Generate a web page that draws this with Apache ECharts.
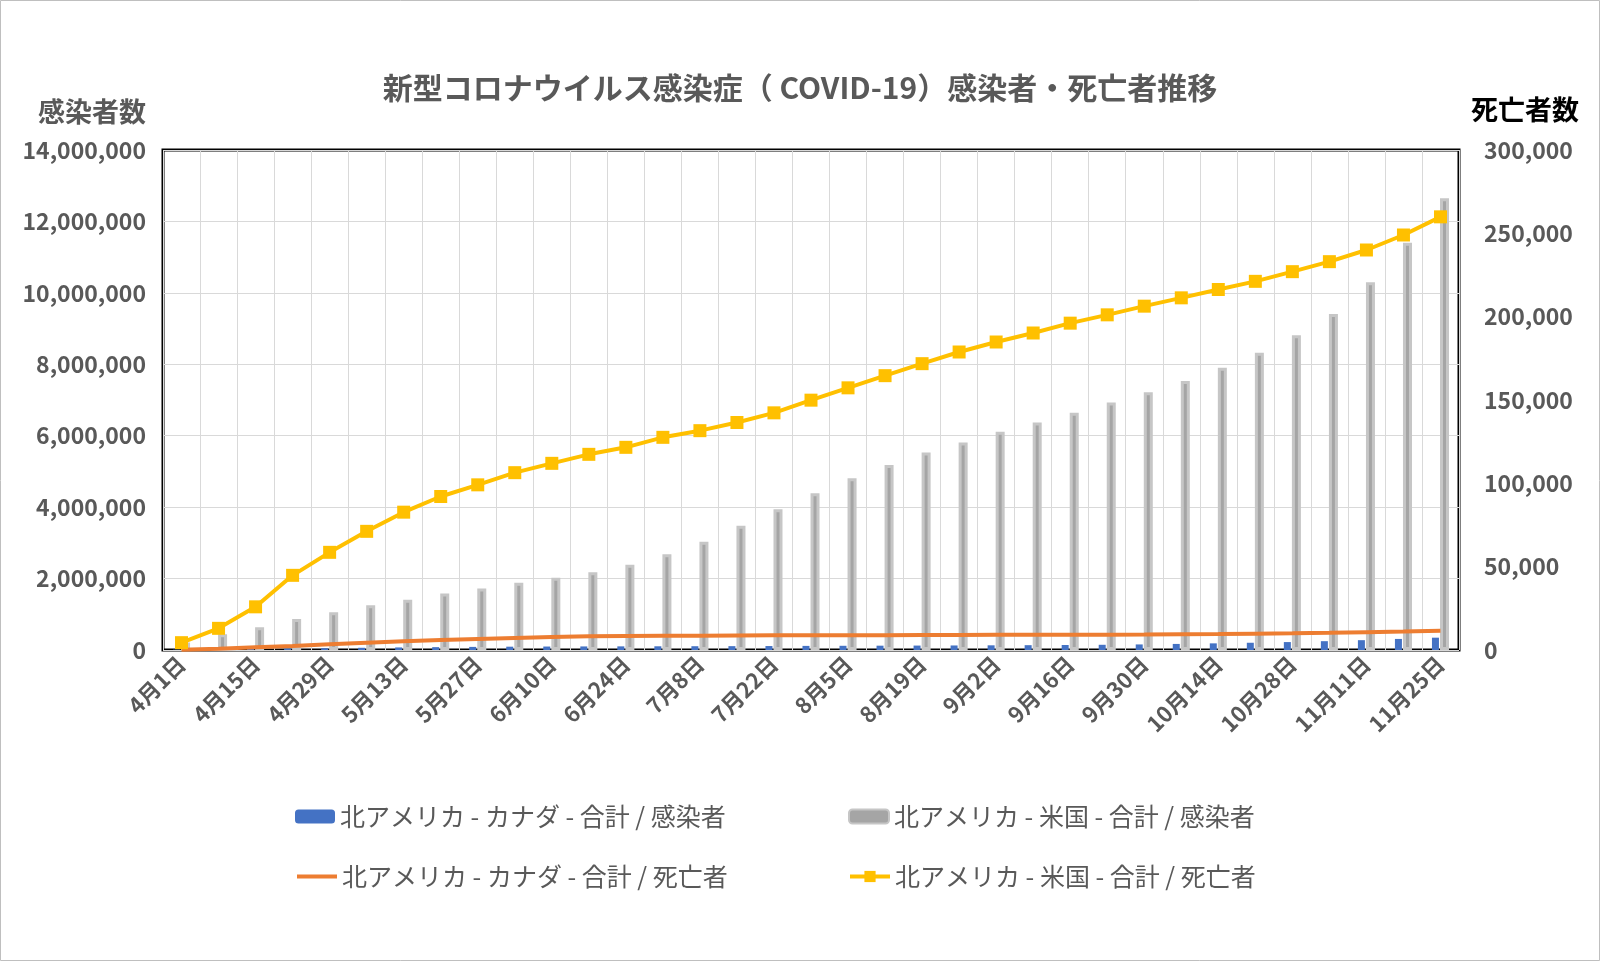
<!DOCTYPE html>
<html>
<head>
<meta charset="utf-8">
<script src="https://cdn.jsdelivr.net/npm/echarts@6/dist/echarts.min.js"></script>
<style>
html,body{margin:0;padding:0;background:#fff;}
#c{width:1600px;height:961px;}
</style>
</head>
<body>
<div id="c"></div>
<script>
const categories = ['4月1日','4月8日','4月15日','4月22日','4月29日','5月6日','5月13日','5月20日','5月27日','6月3日','6月10日','6月17日','6月24日','7月1日','7月8日','7月15日','7月22日','7月29日','8月5日','8月12日','8月19日','8月26日','9月2日','9月9日','9月16日','9月23日','9月30日','10月7日','10月14日','10月21日','10月28日','11月4日','11月11日','11月18日','11月25日'];

const canadaCases = [9000,19000,28000,40000,50000,62000,72000,80000,87000,93000,97000,100000,102000,104000,106000,108000,111000,115000,118000,121000,124000,127000,131000,135000,140000,146000,156000,170000,186000,203000,222000,247000,275000,310000,345000];

const usCases = [210000,440000,640000,870000,1060000,1250000,1410000,1580000,1720000,1880000,2020000,2180000,2390000,2680000,3030000,3480000,3940000,4390000,4810000,5180000,5530000,5810000,6110000,6370000,6640000,6930000,7220000,7530000,7900000,8320000,8810000,9410000,10300000,11400000,12650000];

const canadaDeaths = [200,800,1600,2400,3400,4400,5200,6000,6600,7200,7800,8200,8400,8500,8600,8700,8800,8800,8900,8900,9000,9000,9100,9100,9200,9200,9300,9500,9600,9800,10000,10300,10700,11100,11600];

const usDeaths = [4400,13000,25900,44800,58600,71200,82700,92100,99100,106400,112000,117400,121600,127600,131600,136500,142300,149900,157300,164600,171800,178800,184800,190200,196100,201100,206300,211300,216300,221200,227000,233000,240000,249000,259900];

const leftTicks = {min:0, max:14000000, interval:2000000};
const rightTicks = {min:0, max:300000, interval:50000};

const seriesNames = ['北アメリカ - カナダ - 合計 / 感染者','北アメリカ - 米国 - 合計 / 感染者','北アメリカ - カナダ - 合計 / 死亡者','北アメリカ - 米国 - 合計 / 死亡者'];

const FONT = '"Noto Sans CJK JP", "Noto Sans", sans-serif';
const fmt = v => String(v).replace(/\B(?=(\d{3})+(?!\d))/g, ',');

const chart = echarts.init(document.getElementById('c'), null, {renderer:'canvas'});
const legendCommon = {
  itemWidth: 40, itemHeight: 14,
  textStyle: {fontFamily: FONT, fontSize: 25, color: '#595959'},
  selectedMode: false
};
chart.setOption({
  animation: false,
  backgroundColor: '#fff',
  textStyle: {fontFamily: FONT},
  title: {
    text: '新型コロナウイルス感染症（ COVID-19）感染者・死亡者推移',
    left: 'center', top: 68,
    textStyle: {fontFamily: FONT, fontSize: 30, fontWeight: 'bold', color: '#595959'}
  },
  graphic: [
    {type:'rect', shape:{x:0.5,y:0.5,width:1599,height:960}, style:{fill:'none', stroke:'#BFBFBF', lineWidth:1}, silent:true},
    {type:'text', x:146, y:112, style:{text:'感染者数', textAlign:'right', textVerticalAlign:'middle', font:'bold 27px "Noto Sans CJK JP"', fill:'#595959'}},
    {type:'text', x:1525, y:110, style:{text:'死亡者数', textAlign:'center', textVerticalAlign:'middle', font:'bold 27px "Noto Sans CJK JP"', fill:'#000000'}}
  ],
  legend: [
    Object.assign({data:[seriesNames[0]], left:290, top:799}, legendCommon),
    Object.assign({data:[seriesNames[1]], left:843, top:799}, legendCommon),
    Object.assign({data:[seriesNames[2]], left:290, top:859, itemStyle:{opacity:0}, lineStyle:{width:4}}, legendCommon),
    Object.assign({data:[seriesNames[3]], left:843, top:859, lineStyle:{width:4}}, legendCommon)
  ],
  grid: {
    left: 163, right: 141, top: 150, bottom: 311,
    show: true, borderColor: '#000', borderWidth: 3, containLabel: false
  },
  xAxis: {
    type: 'category',
    data: categories,
    boundaryGap: true,
    axisLine: {show: false},
    axisTick: {show: false},
    splitLine: {show: true, interval: 0, lineStyle: {color: '#D9D9D9', width: 1}},
    axisLabel: {
      interval: 1, rotate: 45, margin: 10,
      fontFamily: FONT, fontSize: 22, fontWeight: 'bold', color: '#595959'
    }
  },
  yAxis: [
    {
      type: 'value', min: leftTicks.min, max: leftTicks.max, interval: leftTicks.interval,
      axisLine: {show: false}, axisTick: {show: false},
      splitLine: {show: true, lineStyle: {color: '#D9D9D9', width: 1}},
      axisLabel: {formatter: fmt, margin: 17, fontFamily: FONT, fontSize: 23, fontWeight: 'bold', color: '#595959'}
    },
    {
      type: 'value', min: rightTicks.min, max: rightTicks.max, interval: rightTicks.interval,
      position: 'right',
      axisLine: {show: false}, axisTick: {show: false},
      splitLine: {show: false},
      axisLabel: {formatter: fmt, margin: 25, fontFamily: FONT, fontSize: 23, fontWeight: 'bold', color: '#595959'}
    }
  ],
  series: [
    {
      name: seriesNames[0], type: 'bar', yAxisIndex: 0, data: canadaCases,
      barWidth: 7, barGap: '15%',
      itemStyle: {color: '#4472C4'}
    },
    {
      name: seriesNames[1], type: 'bar', yAxisIndex: 0, data: usCases,
      barWidth: 9, barGap: '15%',
      itemStyle: {color: '#A5A5A5', borderColor: '#C6C6C6', borderWidth: 3}
    },
    {
      name: seriesNames[2], type: 'line', yAxisIndex: 1, data: canadaDeaths,
      symbol: 'none', z: 3,
      lineStyle: {color: '#ED7D31', width: 4},
      itemStyle: {color: '#ED7D31'}
    },
    {
      name: seriesNames[3], type: 'line', yAxisIndex: 1, data: usDeaths,
      symbol: 'rect', symbolSize: 13, z: 4,
      lineStyle: {color: '#FFC000', width: 4},
      itemStyle: {color: '#FFC000'}
    }
  ]
});
</script>
</body>
</html>
